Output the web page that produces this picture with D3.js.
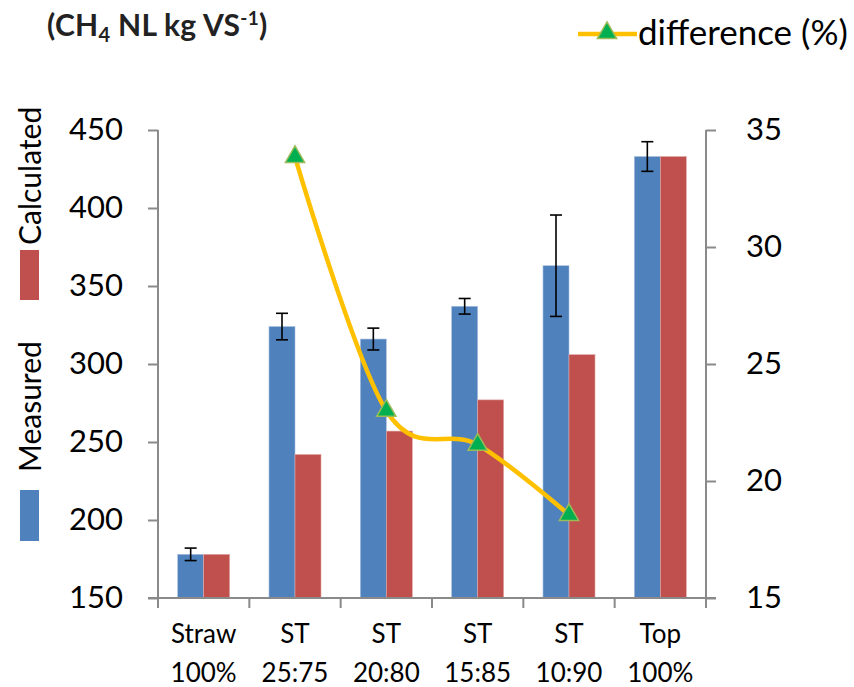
<!DOCTYPE html>
<html>
<head>
<meta charset="utf-8">
<script src="https://cdn.jsdelivr.net/npm/d3@7"></script>
<style>
  html, body { margin: 0; padding: 0; background: #fff; }
  svg { display: block; font-family: Lato, "Open Sans", sans-serif; }
</style>
</head>
<body>
<svg id="chart" width="854" height="687"></svg>
<script>
// Categories (two-line labels) and series values
const categories = [["Straw", "100%"], ["ST", "25:75"], ["ST", "20:80"], ["ST", "15:85"], ["ST", "10:90"], ["Top", "100%"]];
const measured   = [178, 324, 316, 337, 363, 433];
const measuredErr = [4, 8.5, 7, 5, 32.5, 9.5];
const calculated = [178, 242, 257, 277, 306, 433];
// Percentage difference, defined for the mixtures only
const difference = [null, 33.85, 23.0, 21.55, 18.55, null];
const leftTicks  = [150, 200, 250, 300, 350, 400, 450];
const rightTicks = [15, 20, 25, 30, 35];

const svg = d3.select("#chart");
const L = 158, R = 706, T = 130, B = 598;
const axisColor = "#8a8a8a";
const blue = "#4F81BD", red = "#C0504D", gold = "#FFC000", green = "#00B050";

const keys = categories.map(c => c.join(" "));
const x = d3.scaleBand().domain(keys).range([L, R]).padding(0);
const xs = d3.scaleBand().domain(["m", "c"]).range([0, x.bandwidth()]).paddingInner(0).paddingOuter(0.756);
const y = d3.scaleLinear().domain([150, 450]).range([B, T]);
const y2 = d3.scaleLinear().domain([15, 35]).range([B, T]);

// Bars
const g = svg.append("g");
keys.forEach((k, i) => {
  g.append("rect")
    .attr("x", x(k) + xs("m")).attr("y", y(measured[i]))
    .attr("width", xs.bandwidth()).attr("height", y(150) - y(measured[i]))
    .attr("fill", blue).attr("stroke", "#a9c0dd").attr("stroke-width", 0.6);
  g.append("rect")
    .attr("x", x(k) + xs("c")).attr("y", y(calculated[i]))
    .attr("width", xs.bandwidth()).attr("height", y(150) - y(calculated[i]))
    .attr("fill", red).attr("stroke", "#e0a9a7").attr("stroke-width", 0.6);
});

// Error bars on measured values
keys.forEach((k, i) => {
  const cx = x(k) + xs("m") + xs.bandwidth() / 2;
  const top = y(measured[i] + measuredErr[i]), bot = y(measured[i] - measuredErr[i]);
  const eg = g.append("g").attr("stroke", "#000").attr("stroke-width", 1.6);
  eg.append("line").attr("x1", cx).attr("x2", cx).attr("y1", top).attr("y2", bot);
  eg.append("line").attr("x1", cx - 6).attr("x2", cx + 6).attr("y1", top).attr("y2", top);
  eg.append("line").attr("x1", cx - 6).attr("x2", cx + 6).attr("y1", bot).attr("y2", bot);
});

// Left axis
const yAxis = svg.append("g").attr("transform", `translate(${L},0)`)
  .call(d3.axisLeft(y).tickValues(leftTicks).tickSize(10).tickPadding(25));
// Right axis
const y2Axis = svg.append("g").attr("transform", `translate(${R},0)`)
  .call(d3.axisRight(y2).tickValues(rightTicks).tickSize(10).tickPadding(30));
[yAxis, y2Axis].forEach(a => {
  a.selectAll("path, line").attr("stroke", axisColor).attr("stroke-width", 2);
  a.select(".domain").attr("d", `M0,${T}V${B}`);
  a.selectAll("text").attr("font-size", 31).attr("fill", "#000").attr("font-family", "Lato, sans-serif");
});

// Bottom axis with ticks on category boundaries
const xg = svg.append("g");
xg.append("line").attr("x1", L - 10).attr("x2", R + 10).attr("y1", B).attr("y2", B)
  .attr("stroke", axisColor).attr("stroke-width", 2);
const bounds = keys.map(k => x(k)).concat([x.range()[1]]);
bounds.forEach(b => {
  xg.append("line").attr("x1", b).attr("x2", b).attr("y1", B).attr("y2", B + 10)
    .attr("stroke", axisColor).attr("stroke-width", 2);
});
keys.forEach((k, i) => {
  const t = xg.append("text").attr("text-anchor", "middle").attr("font-size", 26).attr("fill", "#000")
    .attr("x", x(k) + x.bandwidth() / 2);
  t.append("tspan").attr("x", x(k) + x.bandwidth() / 2).attr("y", 643).text(categories[i][0]);
  t.append("tspan").attr("x", x(k) + x.bandwidth() / 2).attr("y", 682).text(categories[i][1]);
});

// Difference line (smoothed) on the right axis
const pts = keys.map((k, i) => ({ k, v: difference[i] })).filter(d => d.v != null);
const line = d3.line()
  .x(d => x(d.k) + x.bandwidth() / 2)
  .y(d => y2(d.v))
  .curve(d3.curveCatmullRom.alpha(0));
svg.append("path").datum(pts).attr("d", line)
  .attr("fill", "none").attr("stroke", gold).attr("stroke-width", 4.5)
  .attr("stroke-linejoin", "round");

const tri = d3.symbol().type(d3.symbolTriangle).size(160);
svg.selectAll(".marker").data(pts).enter().append("path")
  .attr("transform", d => `translate(${x(d.k) + x.bandwidth() / 2},${y2(d.v)})`)
  .attr("d", tri).attr("fill", green).attr("stroke", "#9BBB59").attr("stroke-width", 1.5);

// Unit label
const unit = svg.append("text").attr("x", 47).attr("y", 36).attr("font-size", 30)
  .attr("font-weight", "bold").attr("fill", "#222").attr("letter-spacing", 0.3);
unit.append("tspan").text("(CH");
unit.append("tspan").attr("font-size", 20).attr("dy", 6).text("4");
unit.append("tspan").attr("dy", -6).text(" NL kg VS");
unit.append("tspan").attr("font-size", 19).attr("dy", -11).text("-1");
unit.append("tspan").attr("dy", 11).text(")");

// Legend for the difference series
const lg = svg.append("g");
lg.append("line").attr("x1", 578).attr("x2", 637).attr("y1", 34).attr("y2", 34)
  .attr("stroke", gold).attr("stroke-width", 4.5);
lg.append("path").attr("transform", "translate(607,33)").attr("d", tri)
  .attr("fill", green).attr("stroke", "#9BBB59").attr("stroke-width", 1.5);
lg.append("text").attr("x", 638).attr("y", 45).attr("font-size", 35).attr("fill", "#000")
  .text("difference (%)");

// Series legend along the left side (rotated)
const sl = svg.append("g");
sl.append("rect").attr("x", 20).attr("y", 250).attr("width", 19).attr("height", 50).attr("fill", red);
sl.append("text").attr("transform", "translate(41,245) rotate(-90)").attr("font-size", 30)
  .attr("fill", "#000").text("Calculated");
sl.append("rect").attr("x", 20).attr("y", 490).attr("width", 19).attr("height", 51).attr("fill", blue);
sl.append("text").attr("transform", "translate(41,472) rotate(-90)").attr("font-size", 30)
  .attr("fill", "#000").text("Measured");
</script>
</body>
</html>
